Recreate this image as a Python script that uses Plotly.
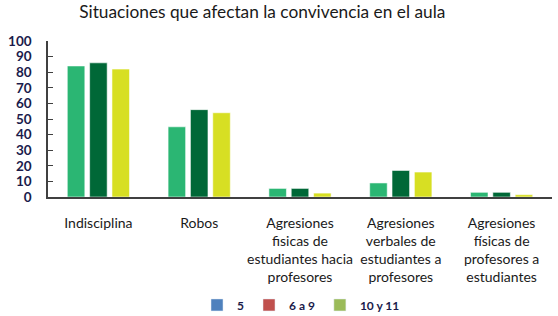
import plotly.graph_objects as go

categories = [
    "Indisciplina",
    "Robos",
    "Agresiones<br>fisicas de<br>estudiantes hacia<br>profesores",
    "Agresiones<br>verbales de<br>estudiantes a<br>profesores",
    "Agresiones<br>físicas de<br>profesores a<br>estudiantes",
]
series_names = ["5", "6 a 9", "10 y 11"]
values_5 = [84, 45, 5.5, 9, 3]
values_6a9 = [86, 56, 5.5, 17, 3]
values_10y11 = [82, 54, 2.5, 16, 1.5]
bar_colors = ["#2bb673", "#006837", "#d7df23"]
legend_colors = ["#4f81bd", "#c0504d", "#9bbb59"]
y_ticks = list(range(0, 101, 10))

font_family = "Lato, 'Open Sans', sans-serif"

fig = go.Figure()
for i, (name, vals, col) in enumerate(zip(series_names, [values_5, values_6a9, values_10y11], bar_colors)):
    fig.add_trace(go.Bar(
        x=categories, y=vals, name=name, showlegend=False, offsetgroup=str(i),
        marker=dict(color=col, line=dict(color="rgba(255,255,255,0.55)", width=1)),
    ))
# legend entries (colours as shown in the reference legend)
for i, (name, col) in enumerate(zip(series_names, legend_colors)):
    fig.add_trace(go.Bar(
        x=[categories[0]], y=[None], name=name, showlegend=True, offsetgroup=str(i),
        marker=dict(color=col), hoverinfo="skip",
    ))

fig.update_layout(
    width=558, height=316,
    margin=dict(l=48, r=6, t=41, b=119),
    paper_bgcolor="white", plot_bgcolor="white",
    barmode="group", bargap=0.335, bargroupgap=0.215,
    font=dict(family=font_family, color="#1a1a1a"),
    title=dict(
        text="Situaciones que afectan la convivencia en el aula",
        x=0.470, xanchor="center", y=0.962, yanchor="middle",
        font=dict(size=17.3, color="#1a1a1a", family=font_family),
    ),
    legend=dict(
        orientation="h", x=0.502, xanchor="center",
        yref="container", y=0.035, yanchor="middle",
        font=dict(size=12, color="#1b1b4b", family=font_family, weight="bold"),
        itemwidth=30, traceorder="normal",
    ),
    showlegend=True,
)
fig.update_xaxes(
    showline=True, linecolor="#404040", linewidth=1.5,
    ticks="", showgrid=False, automargin=False,
    tickfont=dict(size=14, color="#1a1a1a", family=font_family),
    ticklabelstandoff=12,
)
fig.update_yaxes(
    range=[0, 100], tickvals=y_ticks, ticktext=[str(v) for v in y_ticks],
    showline=True, linecolor="#404040", linewidth=1.5,
    ticks="inside", ticklen=5, tickwidth=1.2, tickcolor="#404040",
    showgrid=False, zeroline=False, automargin=False,
    tickfont=dict(size=13.5, color="#1b1b4b", family=font_family, weight="bold"),
    ticklabelstandoff=12,
)

fig.write_html(
    "out.html",
    config={"displayModeBar": False},
    post_script="document.body.style.margin='0';",
)
